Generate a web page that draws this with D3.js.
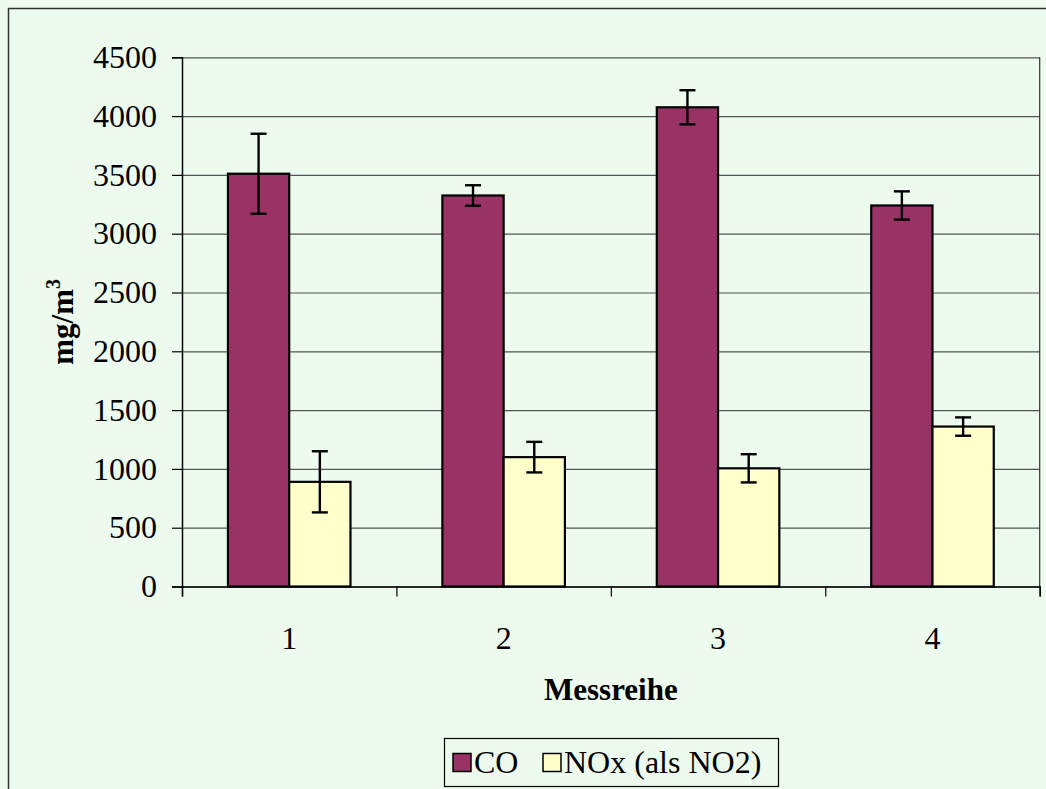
<!DOCTYPE html>
<html>
<head>
<meta charset="utf-8">
<script src="https://cdn.jsdelivr.net/npm/d3@7"></script>
<style>
  html, body { margin: 0; padding: 0; background: #ECFBEE; }
  svg { display: block; }
  svg text { font-family: "Liberation Serif", "Times New Roman", serif !important; fill: #000; }
</style>
</head>
<body>
<svg id="chart" width="1046" height="789"></svg>
<script>
// Measurement series (Messreihe 1–4), mean values with standard deviation
const categories = ["1", "2", "3", "4"];
const seriesNames = ["CO", "NOx (als NO2)"];
const coValues = [3510, 3325, 4075, 3240];
const coErrors = [340, 87, 145, 120];
const noxValues = [890, 1100, 1005, 1360];
const noxErrors = [260, 130, 120, 78];
const yTicks = [0, 500, 1000, 1500, 2000, 2500, 3000, 3500, 4000, 4500];
const seriesColors = ["#993366", "#FFFFCC"];

const serif = "'Liberation Serif', 'Times New Roman', serif";
const svg = d3.select("#chart");
const W = 1046, H = 789;

const plot = { left: 182, right: 1039.7, top: 57.3, bottom: 586.5 };

// outer chart frame (runs off the right and bottom edges)
svg.append("rect")
  .attr("x", 8.5).attr("y", 8.5)
  .attr("width", W + 20).attr("height", H + 20)
  .attr("fill", "#ECFBEE")
  .attr("stroke", "#333").attr("stroke-width", 1.5);

const y = d3.scaleLinear().domain([0, 4500]).range([plot.bottom, plot.top]);
const x = d3.scaleBand().domain(categories).range([plot.left, plot.right]).paddingInner(0).paddingOuter(0);

// gap width 150% → each bar is bandwidth / 3.5
const barW = x.bandwidth() / 3.5;
const xs = d3.scaleBand().domain(seriesNames).range([0, 2 * barW]);
const groupOffset = (x.bandwidth() - 2 * barW) / 2;

// horizontal gridlines
svg.append("g")
  .attr("transform", `translate(${plot.left},0)`)
  .call(d3.axisLeft(y).tickValues(yTicks).tickSize(-(plot.right - plot.left)).tickFormat(""))
  .call(g => g.select(".domain").remove())
  .call(g => g.selectAll(".tick line").attr("stroke", "#555").attr("stroke-width", 1.2));

// plot area border (right side)
svg.append("line")
  .attr("x1", plot.right).attr("x2", plot.right)
  .attr("y1", plot.top).attr("y2", plot.bottom)
  .attr("stroke", "#333").attr("stroke-width", 1.2);

// bars
const rows = categories.map((c, i) => ({
  cat: c,
  items: [
    { s: seriesNames[0], v: coValues[i], e: coErrors[i], color: seriesColors[0] },
    { s: seriesNames[1], v: noxValues[i], e: noxErrors[i], color: seriesColors[1] }
  ]
}));

const groups = svg.append("g").selectAll("g")
  .data(rows).join("g")
  .attr("transform", d => `translate(${x(d.cat) + groupOffset},0)`);

groups.selectAll("rect")
  .data(d => d.items).join("rect")
  .attr("x", d => xs(d.s))
  .attr("y", d => y(d.v))
  .attr("width", xs.bandwidth())
  .attr("height", d => y(0) - y(d.v))
  .attr("fill", d => d.color)
  .attr("stroke", "#000")
  .attr("stroke-width", 2.2);

// error bars
const capHalf = 8;
const eb = groups.selectAll("g.err")
  .data(d => d.items).join("g").attr("class", "err")
  .attr("stroke", "#000").attr("stroke-width", 2.4);
eb.append("line")
  .attr("x1", d => xs(d.s) + xs.bandwidth() / 2).attr("x2", d => xs(d.s) + xs.bandwidth() / 2)
  .attr("y1", d => y(d.v + d.e)).attr("y2", d => y(d.v - d.e));
eb.append("line")
  .attr("x1", d => xs(d.s) + xs.bandwidth() / 2 - capHalf).attr("x2", d => xs(d.s) + xs.bandwidth() / 2 + capHalf)
  .attr("y1", d => y(d.v + d.e)).attr("y2", d => y(d.v + d.e));
eb.append("line")
  .attr("x1", d => xs(d.s) + xs.bandwidth() / 2 - capHalf).attr("x2", d => xs(d.s) + xs.bandwidth() / 2 + capHalf)
  .attr("y1", d => y(d.v - d.e)).attr("y2", d => y(d.v - d.e));

// y axis
svg.append("g")
  .attr("transform", `translate(${plot.left},0)`)
  .attr("font-family", serif)
  .call(d3.axisLeft(y).tickValues(yTicks).tickSize(10).tickPadding(15).tickFormat(d3.format("d")))
  .attr("font-family", serif)
  .call(g => g.select(".domain").attr("stroke", "#000").attr("stroke-width", 1.5))
  .call(g => g.selectAll(".tick line").attr("stroke", "#000").attr("stroke-width", 1.2))
  .call(g => g.selectAll("text").attr("font-size", 32).style("font-family", serif).attr("fill", "#000"));

// x axis: tick marks at category boundaries, labels at category centres
const xEdge = d3.scaleLinear().domain([0, categories.length]).range([plot.left, plot.right]);
svg.append("g")
  .attr("transform", `translate(0,${plot.bottom})`)
  .call(d3.axisBottom(xEdge).tickValues(d3.range(categories.length + 1)).tickSize(10).tickFormat(""))
  .call(g => g.select(".domain").attr("stroke", "#000").attr("stroke-width", 1.5))
  .call(g => g.selectAll(".tick line").attr("stroke", "#000").attr("stroke-width", 1.2));

svg.append("g")
  .attr("transform", `translate(0,${plot.bottom})`)
  .call(d3.axisBottom(x).tickSize(0).tickPadding(40))
  .attr("font-family", serif)
  .call(g => g.select(".domain").remove())
  .call(g => g.selectAll("text").attr("font-size", 32).style("font-family", serif).attr("fill", "#000"));

// axis titles
svg.append("text")
  .attr("x", (plot.left + plot.right) / 2).attr("y", 700)
  .attr("text-anchor", "middle")
  .style("font-family", serif)
  .attr("font-size", 31).attr("font-weight", "bold")
  .text("Messreihe");

const yTitle = svg.append("text")
  .attr("transform", `translate(73,${(plot.top + plot.bottom) / 2}) rotate(-90)`)
  .attr("text-anchor", "middle")
  .style("font-family", serif)
  .attr("font-size", 31).attr("font-weight", "bold");
yTitle.append("tspan").text("mg/m");
yTitle.append("tspan").attr("font-size", 20).attr("dy", -13).text("3");

// legend
const legend = svg.append("g");
legend.append("rect")
  .attr("x", 444.5).attr("y", 738.5).attr("width", 334).attr("height", 48)
  .attr("fill", "#ECFBEE").attr("stroke", "#000").attr("stroke-width", 1.2);
const legendPos = [453, 543];
seriesNames.forEach((name, i) => {
  legend.append("rect")
    .attr("x", legendPos[i]).attr("y", 753.5).attr("width", 18).attr("height", 18)
    .attr("fill", seriesColors[i]).attr("stroke", "#000").attr("stroke-width", 1.5);
  legend.append("text")
    .attr("x", legendPos[i] + 21).attr("y", 773)
    .style("font-family", serif)
    .attr("font-size", 32)
    .text(name);
});
</script>
</body>
</html>
